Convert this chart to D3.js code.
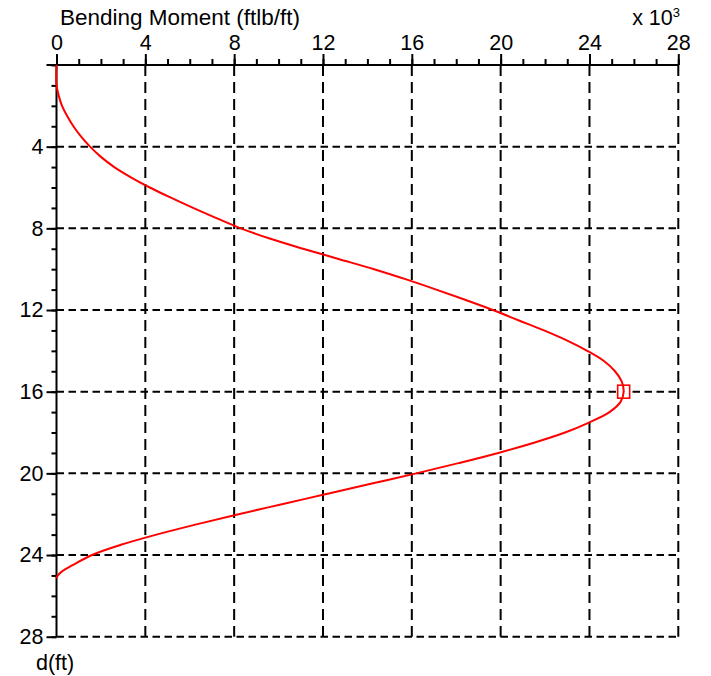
<!DOCTYPE html>
<html>
<head>
<meta charset="utf-8">
<script src="https://cdn.jsdelivr.net/npm/d3@7"></script>
<style>
  html, body { margin: 0; padding: 0; background: #fff; }
  svg { display: block; font-family: Arial, "Liberation Sans", sans-serif; }
</style>
</head>
<body>
<svg id="chart" width="711" height="676"></svg>
<script>
// Bending moment (x10^3 ftlb/ft) along depth d (ft)
const depth = [0, 0.98, 1.5, 2.0, 2.5, 3.0, 3.5, 4.0, 4.5, 5.0, 5.5, 6.0, 6.5, 7.0, 7.5, 8.0, 8.5, 9.0, 9.5, 10.0, 10.5, 11.0, 11.5, 12.0, 12.5, 13.0, 13.5, 14.0, 14.5, 15.0, 15.5, 16.0, 16.5, 17.0, 17.5, 18.0, 18.5, 19.0, 19.5, 20.0, 20.5, 21.0, 21.5, 22.0, 22.5, 23.0, 23.5, 24.0, 24.5, 24.8, 25.0, 25.14];
const moment = [0, 0, 0.1, 0.25, 0.48, 0.76, 1.1, 1.51, 2.0, 2.6, 3.35, 4.2, 5.15, 6.15, 7.2, 8.3, 9.6, 11.1, 12.7, 14.3, 15.75, 17.1, 18.4, 19.65, 20.8, 21.95, 23.0, 23.9, 24.65, 25.15, 25.45, 25.54, 25.4, 24.9, 24.0, 22.9, 21.5, 19.9, 18.1, 16.2, 14.2, 12.2, 10.2, 8.2, 6.3, 4.5, 2.9, 1.6, 0.72, 0.25, 0.06, 0];
// maximum moment marker
const maxPoint = { moment: 25.54, depth: 16.0 };

const xTicks = [0, 4, 8, 12, 16, 20, 24, 28];
const yTicks = [4, 8, 12, 16, 20, 24, 28];
const xMinor = d3.range(0, 29, 1);
const yMinor = d3.range(0, 29, 1);

const svg = d3.select("#chart");
const x = d3.scaleLinear().domain([0, 28]).range([56.5, 678.3]);
const y = d3.scaleLinear().domain([0, 28]).range([65, 636.7]);

const fontSize = 21.5;
const fontFamily = "Arial, 'Liberation Sans', sans-serif";

// dashed grid
const grid = svg.append("g");
grid.selectAll("line.v").data(xTicks.filter(t => t > 0)).join("line")
  .attr("x1", d => x(d)).attr("x2", d => x(d))
  .attr("y1", y(0)).attr("y2", y(28))
  .attr("stroke", "#000").attr("stroke-width", 2)
  .attr("stroke-dasharray", "11,6");
grid.selectAll("line.h").data(yTicks).join("line")
  .attr("x1", x(0)).attr("x2", x(28))
  .attr("y1", d => y(d)).attr("y2", d => y(d))
  .attr("stroke", "#000").attr("stroke-width", 2)
  .attr("stroke-dasharray", "7.5,4.5");

// top axis
const xAxis = svg.append("g").attr("transform", `translate(0,${y(0)})`);
xAxis.call(d3.axisTop(x).tickValues(xMinor).tickSize(6).tickFormat(""));
xAxis.append("g").call(d3.axisTop(x).tickValues(xTicks).tickSize(11).tickPadding(4).tickFormat(d3.format("d")));
xAxis.selectAll(".domain").remove();
xAxis.selectAll("line").attr("stroke", "#000").attr("stroke-width", 2);
xAxis.selectAll("text").attr("font-size", fontSize).attr("fill", "#000").attr("font-family", fontFamily);
xAxis.append("line").attr("x1", x(0) - 10).attr("x2", x(28)).attr("y1", 0).attr("y2", 0)
  .attr("stroke", "#000").attr("stroke-width", 2);

// left axis
const yAxis = svg.append("g").attr("transform", `translate(${x(0)},0)`);
yAxis.call(d3.axisLeft(y).tickValues(yMinor).tickSize(5).tickFormat(""));
yAxis.append("g").call(d3.axisLeft(y).tickValues(yTicks).tickSize(10).tickPadding(3).tickFormat(d3.format("d")));
yAxis.selectAll(".domain").remove();
yAxis.selectAll("line").attr("stroke", "#000").attr("stroke-width", 2);
yAxis.selectAll("text").attr("font-size", fontSize).attr("fill", "#000").attr("font-family", fontFamily);
yAxis.append("line").attr("x1", 0).attr("x2", 0).attr("y1", y(0)).attr("y2", y(28))
  .attr("stroke", "#000").attr("stroke-width", 2);

// max marker (white box behind the curve)
svg.append("rect")
  .attr("x", x(maxPoint.moment) - 6).attr("y", y(maxPoint.depth) - 6.5)
  .attr("width", 12).attr("height", 13)
  .attr("fill", "#fff").attr("stroke", "#ff0000").attr("stroke-width", 1.6);

// moment curve
const pts = depth.map((d, i) => ({ d, m: moment[i] }));
const line = d3.line().x(p => x(p.m)).y(p => y(p.d)).curve(d3.curveCatmullRom.alpha(0.5));
svg.append("path").datum(pts)
  .attr("d", line)
  .attr("fill", "none").attr("stroke", "#ff0000").attr("stroke-width", 2);

// titles
svg.append("text").attr("x", 60).attr("y", 25).attr("font-size", 22.5).attr("font-family", fontFamily)
  .text("Bending Moment (ftlb/ft)");
const mult = svg.append("text").attr("x", 680).attr("y", 25).attr("text-anchor", "end")
  .attr("font-size", fontSize).attr("font-family", fontFamily);
mult.append("tspan").text("x 10");
mult.append("tspan").attr("dy", -8).attr("font-size", 13).text("3");
svg.append("text").attr("x", 36).attr("y", 670).attr("font-size", fontSize).attr("font-family", fontFamily).text("d(ft)");
</script>
</body>
</html>
